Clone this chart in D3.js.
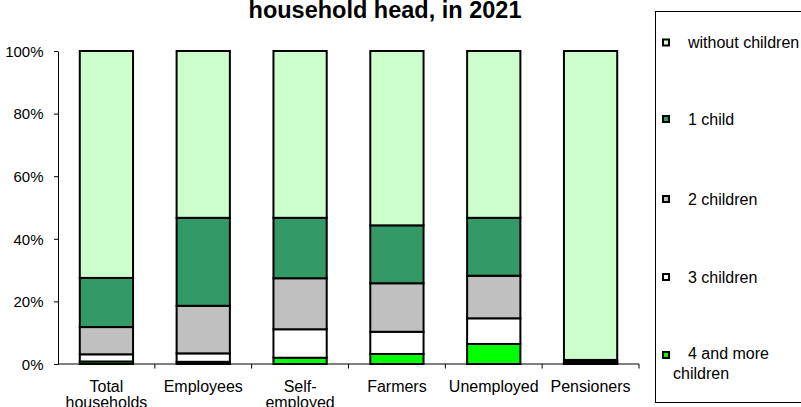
<!DOCTYPE html>
<html><head><meta charset="utf-8">
<script src="https://cdn.jsdelivr.net/npm/d3@7"></script>
<style>body{margin:0;background:#fff}svg{display:block;font-family:Arial,"Liberation Sans",sans-serif}</style>
</head><body><svg id="c" width="801" height="407"></svg>
<script>
const categories = [["Total","households"],["Employees"],["Self-","employed"],["Farmers"],["Unemployed"],["Pensioners"]];
const seriesNames = ["4 and more children","3 children","2 children","1 child","without children"];
const fourPlus   = [0.8, 0.7, 2.0, 3.2, 6.4, 0.1];
const three      = [2.3, 2.7, 9.1, 7.1, 8.2, 0.2];
const two        = [8.7, 15.2, 16.3, 15.5, 13.6, 0.4];
const oneChild   = [15.7, 28.1, 19.3, 18.5, 18.5, 0.6];
const without    = [72.5, 53.3, 53.3, 55.7, 53.3, 98.7];
const colors = ["#00FF00","#FFFFFF","#C0C0C0","#339966","#CCFFCC"];
const yTicks = [0,20,40,60,80,100];
const title = "household head, in 2021";

const svg = d3.select("#c");
const x0 = 58, x1 = 639, yTop = 51, yBot = 364;
const x = d3.scaleBand().domain(d3.range(categories.length)).range([x0,x1]).paddingInner(0.45).paddingOuter(0.225);
const xb = d3.scaleBand().domain(d3.range(categories.length)).range([x0,x1]);
const y = d3.scaleLinear().domain([0,100]).range([yBot,yTop]);

const rows = categories.map((c,i)=>({i, v:[fourPlus[i],three[i],two[i],oneChild[i],without[i]]}));
const keys = [0,1,2,3,4];
const stack = d3.stack().keys(keys).value((d,k)=>d.v[k]);
const layers = stack(rows);

svg.append("text").attr("x",385).attr("y",17.5).attr("text-anchor","middle")
  .attr("font-size",23.5).attr("font-weight","bold").text(title);

svg.selectAll("g.layer").data(layers).join("g").attr("class","layer")
  .attr("fill",(d,i)=>colors[i])
  .selectAll("rect").data(d=>d).join("rect")
  .attr("x",d=>x(d.data.i)).attr("width",x.bandwidth())
  .attr("y",d=>y(d[1])).attr("height",d=>Math.max(0,y(d[0])-y(d[1])))
  .attr("stroke","#000").attr("stroke-width",2);

// y axis
const ya = svg.append("g").attr("transform",`translate(${x0},0)`)
  .call(d3.axisLeft(y).tickValues(yTicks).tickFormat(d=>d+"%").tickSize(4).tickSizeOuter(0));
ya.select(".domain").attr("stroke","#000");
ya.selectAll(".tick line").attr("stroke","#000");
ya.selectAll("text").attr("font-size",15).attr("fill","#000").attr("font-family","Arial,'Liberation Sans',sans-serif").attr("x",-14.5).attr("dy","0.35em");

// x axis line + ticks at boundaries
const xa = svg.append("g");
xa.append("line").attr("x1",x0).attr("x2",x1).attr("y1",yBot).attr("y2",yBot).attr("stroke","#000");
xa.selectAll("line.t").data(d3.range(1,categories.length+1)).join("line").attr("class","t")
  .attr("x1",i=>i<categories.length?xb(i):x1).attr("x2",i=>i<categories.length?xb(i):x1)
  .attr("y1",yBot).attr("y2",yBot+4.5).attr("stroke","#000");
xa.selectAll("text").data(categories).join("text")
  .attr("x",(d,i)=>x(i)+x.bandwidth()/2).attr("y",391.5).attr("text-anchor","middle").attr("font-size",16)
  .each(function(d){ const t=d3.select(this); d.forEach((s,k)=>t.append("tspan").attr("x",t.attr("x")).attr("dy",k?16.5:0).text(s)); });

// legend
const lg = svg.append("g").attr("font-size",16);
lg.append("rect").attr("x",655.5).attr("y",11.5).attr("width",160).attr("height",391).attr("fill","none").attr("stroke","#000");
const legendItems = [[4,42.5],[3,119],[2,199],[1,277],[0,355]];
legendItems.forEach(([k,cy])=>{
  lg.append("rect").attr("x",663).attr("y",cy-3).attr("width",6).attr("height",6).attr("fill",colors[k]).attr("stroke","#000").attr("stroke-width",2);
});
lg.append("text").attr("x",688).attr("y",47.5).text("without children");
lg.append("text").attr("x",688).attr("y",124.5).text("1 child");
lg.append("text").attr("x",688).attr("y",204.5).text("2 children");
lg.append("text").attr("x",688).attr("y",282.5).text("3 children");
lg.append("text").attr("x",688).attr("y",359).text("4 and more");
lg.append("text").attr("x",673).attr("y",378.5).text("children");
</script></body></html>
